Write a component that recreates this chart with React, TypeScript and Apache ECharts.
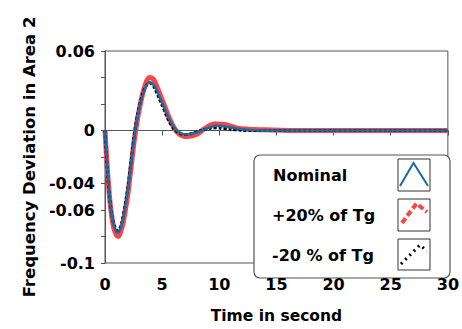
import React, { useEffect, useRef } from "react";
import * as echarts from "echarts";

const times = [0, 0.1, 0.3, 0.5, 0.75, 1.0, 1.15, 1.35, 1.6, 2.0, 2.2, 2.6, 3.0, 3.5, 3.9, 4.2, 4.5, 5.1, 5.8, 6.4, 7.1, 8.0, 8.8, 9.7, 10.5, 11.5, 12.5, 14, 16, 30];
const nominal = [0, -0.015, -0.04, -0.058, -0.071, -0.0765, -0.077, -0.074, -0.066, -0.045, -0.031, -0.003, 0.017, 0.0316, 0.0366, 0.035, 0.031, 0.019, 0.0055, -0.001, -0.003, -0.0015, 0.001, 0.0035, 0.003, 0.0015, 0.0005, 0, 0, 0];
const plusTg = [0, -0.015, -0.04, -0.059, -0.073, -0.079, -0.08, -0.077, -0.069, -0.048, -0.034, -0.005, 0.016, 0.034, 0.04, 0.039, 0.034, 0.021, 0.006, -0.002, -0.0045, -0.003, 0.002, 0.005, 0.0045, 0.002, 0.001, 0.0005, 0, 0];
const minusTg = [0, -0.016, -0.041, -0.058, -0.07, -0.075, -0.0755, -0.073, -0.064, -0.043, -0.029, -0.001, 0.018, 0.032, 0.0358, 0.034, 0.029, 0.017, 0.004, -0.0015, -0.003, -0.001, 0.001, 0.002, 0.0015, 0.0005, 0, 0, 0, 0];

const seriesNames = ["Nominal", "+20% of Tg", "-20 % of Tg"];
const yLabelsShown = [0.06, 0, -0.04, -0.06, -0.1];
const xTicks = [0, 5, 10, 15, 20, 25, 30];

const FONT = "DejaVu Sans";
const BLUE = "#1c6aa6";
const RED = "#ff4444";

export default function App() {
  const ref = useRef<HTMLDivElement>(null);
  useEffect(() => {
    document.body.style.margin = "0";
    if (!ref.current) return;
    const chart = echarts.init(ref.current, null, { renderer: "svg" });
    const pts = (vals: number[]) => times.map((t, i) => [t, vals[i]]);
    const txt = (text: string, x: number, y: number) => ({
      type: "text",
      x,
      y,
      style: { text, fontFamily: FONT, fontWeight: "bold", fontSize: 16, fill: "#000", verticalAlign: "middle" },
    });
    chart.setOption({
      animation: false,
      backgroundColor: "#fff",
      grid: {
        left: 105,
        right: 14,
        top: 51,
        bottom: 63,
        show: true,
        borderColor: "#555",
        borderWidth: 1,
        backgroundColor: "transparent",
      },
      xAxis: {
        type: "value",
        min: 0,
        max: 30,
        interval: 5,
        name: "Time in second",
        nameLocation: "middle",
        nameGap: 45,
        nameTextStyle: { fontFamily: FONT, fontWeight: "bold", fontSize: 15.5, color: "#000" },
        axisLine: { show: true, lineStyle: { color: "#555", width: 1 } },
        axisTick: { show: true, length: 5, lineStyle: { color: "#555" } },
        splitLine: { show: false },
        axisLabel: {
          fontFamily: FONT,
          fontWeight: "bold",
          fontSize: 16,
          color: "#000",
          margin: 13,
          formatter: (v: number) => (xTicks.includes(Math.round(v)) ? String(Math.round(v)) : ""),
        },
      },
      yAxis: {
        type: "value",
        min: -0.1,
        max: 0.06,
        interval: 0.02,
        name: "Frequency Deviation in Area 2",
        nameLocation: "middle",
        nameGap: 62,
        nameTextStyle: { fontFamily: FONT, fontWeight: "bold", fontSize: 16.5, color: "#000" },
        axisLine: { show: true, lineStyle: { color: "#555", width: 1 } },
        axisTick: { show: true, length: 4, lineStyle: { color: "#555" } },
        splitLine: { show: false },
        axisLabel: {
          fontFamily: FONT,
          fontWeight: "bold",
          fontSize: 16,
          color: "#000",
          margin: 10,
          formatter: (v: number) => {
            const r = Math.round(v * 100) / 100;
            return yLabelsShown.some((s) => Math.abs(s - r) < 1e-9) ? String(r) : "";
          },
        },
      },
      series: [
        {
          name: seriesNames[1],
          type: "line",
          data: pts(plusTg),
          smooth: 0.4,
          showSymbol: false,
          lineStyle: { color: RED, width: 5 },
          z: 1,
        },
        {
          name: seriesNames[2],
          type: "line",
          data: pts(minusTg),
          smooth: 0.4,
          showSymbol: false,
          lineStyle: { color: "#000", width: 3, type: [3, 2] },
          z: 2,
        },
        {
          name: seriesNames[0],
          type: "line",
          data: pts(nominal),
          smooth: 0.4,
          showSymbol: false,
          lineStyle: { color: BLUE, width: 2.5 },
          z: 3,
        },
      ],
      graphic: [
        {
          type: "group",
          z: 100,
          children: [
            {
              type: "rect",
              shape: { x: 254, y: 155, width: 196, height: 123, r: 6 },
              style: { fill: "#fff", stroke: "#555", lineWidth: 1.2 },
            },
            txt(seriesNames[0], 273, 175),
            txt(seriesNames[1], 272, 215),
            txt(seriesNames[2], 272, 255),
            { type: "rect", shape: { x: 398, y: 159, width: 32, height: 32 }, style: { fill: "#fff", stroke: "#333", lineWidth: 1 } },
            { type: "rect", shape: { x: 398, y: 199, width: 32, height: 32 }, style: { fill: "#fff", stroke: "#333", lineWidth: 1 } },
            { type: "rect", shape: { x: 398, y: 239, width: 32, height: 31 }, style: { fill: "#fff", stroke: "#333", lineWidth: 1 } },
            {
              type: "polyline",
              shape: { points: [[400, 186], [413.5, 163], [428, 186]] },
              style: { stroke: BLUE, lineWidth: 2, fill: "none" },
            },
            {
              type: "polyline",
              shape: { points: [[402, 223], [416.5, 203.5], [427, 212]] },
              style: { stroke: RED, lineWidth: 4, fill: "none", lineDash: [6, 3] },
            },
            {
              type: "polyline",
              shape: { points: [[401, 264], [420, 245], [427, 251]] },
              style: { stroke: "#000", lineWidth: 3, fill: "none", lineDash: [2, 4] },
            },
          ],
        },
      ],
    });
    return () => chart.dispose();
  }, []);
  return <div ref={ref} style={{ width: 462, height: 329 }} />;
}
